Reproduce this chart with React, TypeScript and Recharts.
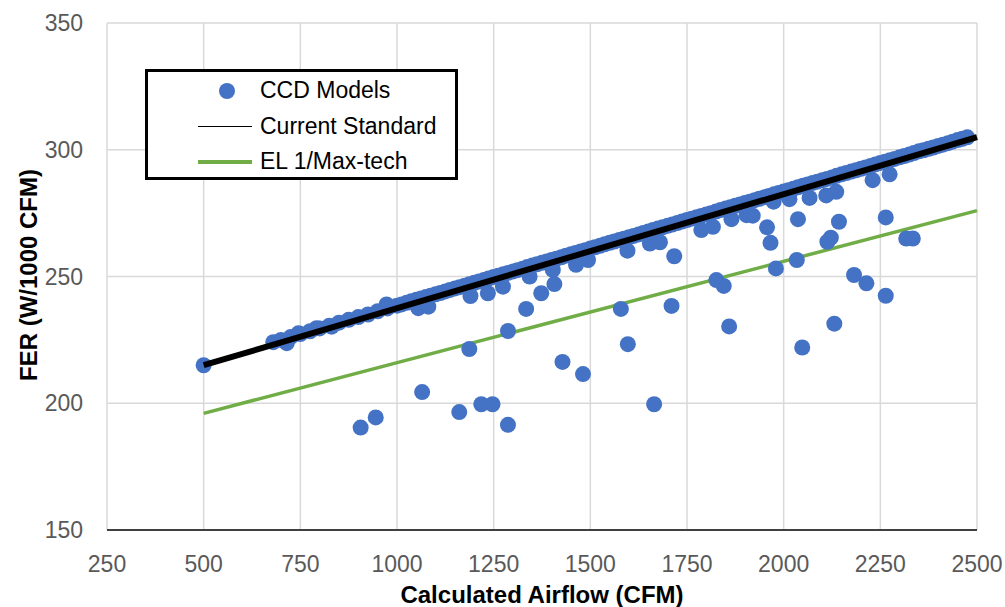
import { ScatterChart, Scatter, XAxis, YAxis, CartesianGrid, Label } from "recharts";

const FONT = "'Liberation Sans', Arial, sans-serif";

const xTicks = [250, 500, 750, 1000, 1250, 1500, 1750, 2000, 2250, 2500];
const yTicks = [150, 200, 250, 300, 350];

// models sitting on the current standard
const onStdCfm = [500, 680, 700, 715, 725, 745, 750, 775, 792, 800, 825, 831, 850, 875, 900, 925, 950, 973, 975, 1000, 1025, 1050, 1055, 1075, 1081, 1100, 1125, 1150, 1175, 1200, 1225, 1250, 1275, 1300, 1325, 1350, 1375, 1400, 1425, 1450, 1475, 1500, 1525, 1550, 1575, 1600, 1625, 1650, 1675, 1700, 1725, 1750, 1775, 1800, 1825, 1850, 1875, 1900, 1925, 1950, 1975, 2000, 2025, 2050, 2075, 2100, 2125, 2150, 2175, 2200, 2225, 2250, 2275, 2300, 2325, 2350, 2375, 2400, 2425, 2450, 2475];
const onStdFer = [215, 224.1, 225.0, 223.7, 226.1, 227.6, 227.3, 228.4, 229.6, 229.5, 230.6, 230.2, 231.8, 232.9, 234.0, 235.0, 236.3, 239.0, 237.4, 238.5, 239.6, 240.8, 237.5, 241.9, 238.1, 243.0, 244.1, 245.3, 246.4, 247.5, 248.6, 249.8, 250.9, 252.0, 253.1, 254.3, 255.4, 256.5, 257.6, 258.8, 259.9, 261.0, 262.1, 263.3, 264.4, 265.5, 266.6, 267.8, 268.9, 270.0, 271.1, 272.3, 273.4, 274.5, 275.6, 276.8, 277.9, 279.0, 280.1, 281.3, 282.4, 283.5, 284.6, 285.8, 286.9, 288.0, 289.1, 290.3, 291.4, 292.5, 293.6, 294.8, 295.9, 297.0, 298.1, 299.4, 300.4, 301.5, 302.6, 303.8, 304.9];

// more models on the standard, in between the ones above
const onStd2Cfm = [1012, 1037, 1062, 1087, 1112, 1137, 1162, 1187, 1212, 1237, 1262, 1287, 1312, 1337, 1362, 1387, 1412, 1437, 1462, 1487, 1512, 1537, 1562, 1587, 1612, 1637, 1662, 1687, 1712, 1737, 1762, 1787, 1812, 1837, 1862, 1887, 1912, 1937, 1962, 1987, 2012, 2037, 2062, 2087, 2112, 2137, 2162, 2187, 2212, 2237, 2262, 2287, 2312, 2337, 2362, 2387, 2412, 2437, 2462];
const onStd2Fer = [239.0, 240.2, 241.3, 242.4, 243.5, 244.7, 245.8, 246.9, 248.0, 249.2, 250.3, 251.4, 252.5, 253.7, 254.8, 255.9, 257.0, 258.2, 259.3, 260.4, 261.5, 262.7, 263.8, 264.9, 266.0, 267.2, 268.3, 269.4, 270.5, 271.7, 272.8, 273.9, 275.0, 276.2, 277.3, 278.4, 279.5, 280.7, 281.8, 282.9, 284.0, 285.2, 286.3, 287.4, 288.5, 289.7, 290.8, 291.9, 293.0, 294.2, 295.3, 296.4, 297.5, 298.7, 299.8, 300.9, 302.0, 303.2, 304.3];

// models below the standard
const belowCfm = [906, 945, 1065, 1161, 1218, 1247, 1287, 1187, 1287, 1334, 1373, 1407, 1428, 1481, 1579, 1597, 1665, 1710, 1717, 1826, 1845, 1859, 1190, 1235, 1596, 1654, 1680, 2048, 2131, 1980, 2034, 1966, 1957, 2037, 2113, 2122, 2143, 2182, 2214, 2264, 2264, 2317, 2334, 2230, 2274, 1865, 1920, 2067, 2110, 2136, 2015, 1974, 1787, 1817, 1904, 1463, 1494, 1403, 1343, 1274];
const belowFer = [190.4, 194.4, 204.4, 196.5, 199.6, 199.6, 191.5, 221.4, 228.5, 237.2, 243.4, 247.0, 216.3, 211.5, 237.2, 223.3, 199.6, 238.4, 258.0, 248.6, 246.3, 230.3, 242.3, 243.4, 260.2, 263.0, 263.5, 222.0, 231.4, 253.2, 256.5, 263.3, 269.4, 272.6, 263.7, 265.3, 271.6, 250.6, 247.3, 242.4, 273.3, 265.0, 265.0, 288.0, 290.3, 272.6, 274.0, 281.0, 282.0, 283.4, 280.5, 279.5, 268.3, 269.6, 274.2, 254.6, 256.5, 252.6, 250.0, 246.0];

const stdCfm = [500, 2500];
const stdFer = [215, 305];
const el1Cfm = [500, 2500];
const el1Fer = [196, 276];

const zip = (xs: number[], ys: number[]) => xs.map((x, i) => ({ x, y: ys[i] }));

const models = [...zip(onStdCfm, onStdFer), ...zip(onStd2Cfm, onStd2Fer), ...zip(belowCfm, belowFer)];
const stdLine = zip(stdCfm, stdFer);
const el1Line = zip(el1Cfm, el1Fer);

const Dot = (p: any) => <circle cx={p.cx} cy={p.cy} r={8} fill="#4472C4" />;
const NoDot = () => <g />;

function LegendBox() {
  const row = { display: "flex", alignItems: "center", height: 35.5 } as const;
  return (
    <div style={{ position: "absolute", left: 145, top: 69, width: 307, height: 104, border: "3px solid #000", background: "#fff", fontFamily: FONT, fontSize: 23, color: "#000", paddingTop: 1 }}>
      <div style={row}>
        <span style={{ width: 112, display: "flex", justifyContent: "center" }}>
          <span style={{ width: 16, height: 16, borderRadius: 8, background: "#4472C4", marginLeft: 46 }} />
        </span>
        <span>CCD Models</span>
      </div>
      <div style={row}>
        <span style={{ width: 54, height: 1, background: "#000", marginLeft: 50, marginRight: 8 }} />
        <span>Current Standard</span>
      </div>
      <div style={row}>
        <span style={{ width: 54, height: 3.5, background: "#70AD47", marginLeft: 50, marginRight: 8 }} />
        <span>EL 1/Max-tech</span>
      </div>
    </div>
  );
}

export default function App() {
  return (
    <div style={{ position: "absolute", left: 0, top: 0, width: 1005, height: 607, background: "#fff" }}>
      <ScatterChart width={1005} height={607} margin={{ top: 23, right: 28, left: 0, bottom: 0 }}>
        <CartesianGrid stroke="#d9d9d9" strokeWidth={1.5} />
        <XAxis
          type="number"
          dataKey="x"
          domain={[250, 2500]}
          ticks={xTicks}
          height={77}
          tickLine={false}
          tickMargin={20}
          axisLine={{ stroke: "#404040", strokeWidth: 2 }}
          tick={{ fill: "#595959", fontSize: 23, fontFamily: FONT }}
        >
          <Label value="Calculated Airflow (CFM)" position="insideBottom" offset={4} style={{ fontSize: 24, fontWeight: 700, fill: "#000", fontFamily: FONT }} />
        </XAxis>
        <YAxis
          type="number"
          dataKey="y"
          domain={[150, 350]}
          ticks={yTicks}
          width={107}
          tickLine={false}
          tickMargin={18}
          axisLine={false}
          tick={{ fill: "#595959", fontSize: 23, fontFamily: FONT }}
        >
          <Label
            content={() => (
              <text x={37} y={275} transform="rotate(-90 37 275)" textAnchor="middle" style={{ fontSize: 24, fontWeight: 700, fill: "#000", fontFamily: FONT }}>
                FER (W/1000 CFM)
              </text>
            )}
          />
        </YAxis>
        <Scatter data={el1Line} line={{ stroke: "#70AD47", strokeWidth: 3.5 }} shape={NoDot} isAnimationActive={false} />
        <Scatter data={models} shape={Dot} isAnimationActive={false} />
        <Scatter data={stdLine} line={{ stroke: "#000", strokeWidth: 6 }} shape={NoDot} isAnimationActive={false} />
      </ScatterChart>
      <LegendBox />
    </div>
  );
}
